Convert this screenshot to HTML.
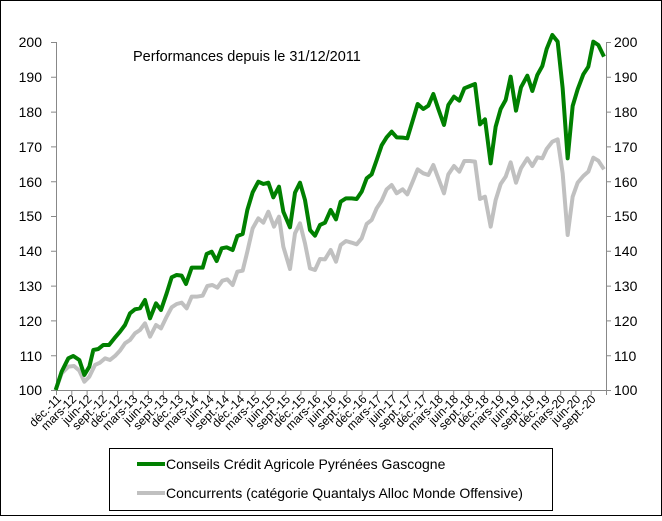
<!DOCTYPE html>
<html><head><meta charset="utf-8"><style>
body{margin:0;background:#fff}
svg text{font-family:"Liberation Sans",Arial,sans-serif;fill:#000}
</style></head><body>
<svg width="662" height="516" viewBox="0 0 662 516" xmlns="http://www.w3.org/2000/svg">
<rect x="0.5" y="0.5" width="661" height="515" fill="#fff" stroke="#000"/>
<g stroke="#888" stroke-width="1" fill="none">
<line x1="56.5" y1="42" x2="56.5" y2="390"/>
<line x1="606.5" y1="42" x2="606.5" y2="390"/>
<line x1="56" y1="390.5" x2="607" y2="390.5"/>
<path d="M51 42.5H56M51 77.3H56M51 112.1H56M51 146.9H56M51 181.7H56M51 216.5H56M51 251.3H56M51 286.1H56M51 320.9H56M51 355.7H56M51 390.5H56"/>
<path d="M606 42.5H611M606 77.3H611M606 112.1H611M606 146.9H611M606 181.7H611M606 216.5H611M606 251.3H611M606 286.1H611M606 320.9H611M606 355.7H611M606 390.5H611"/>
<path id="xt" d=""/>
</g>
<g font-size="14" text-anchor="end">
<text x="42" y="47">200</text><text x="42" y="82">190</text><text x="42" y="117">180</text><text x="42" y="152">170</text><text x="42" y="187">160</text><text x="42" y="221">150</text><text x="42" y="256">140</text><text x="42" y="291">130</text><text x="42" y="326">120</text><text x="42" y="361">110</text><text x="42" y="395">100</text>
</g>
<g font-size="14">
<text x="614" y="47">200</text><text x="614" y="82">190</text><text x="614" y="117">180</text><text x="614" y="152">170</text><text x="614" y="187">160</text><text x="614" y="221">150</text><text x="614" y="256">140</text><text x="614" y="291">130</text><text x="614" y="326">120</text><text x="614" y="361">110</text><text x="614" y="395">100</text>
</g>
<text x="133" y="61" font-size="14.5">Performances depuis le 31/12/2011</text>
<g id="xl" font-size="12" text-anchor="end"></g>
<g transform="translate(50,30) scale(0.33333)" fill="none" stroke-linejoin="round">
<polyline vector-effect="non-scaling-stroke" stroke="#c0c0c0" stroke-width="4" points="17,1080 35,1030 55,1010 72,1008 88,1022 103,1055 118,1040 135,1005 150,998 165,985 180,990 195,978 210,962 225,940 240,930 255,910 270,900 285,880 300,920 318,885 333,895 350,860 365,832 380,822 395,818 410,835 425,800 440,800 458,797 472,768 487,765 502,773 517,752 532,748 548,765 562,725 578,722 592,665 608,595 625,565 640,578 655,545 672,590 687,560 700,650 720,717 735,610 750,580 765,640 780,715 795,720 810,687 825,688 842,660 858,695 872,645 888,633 905,638 920,643 935,625 950,582 965,570 980,535 995,512 1010,478 1025,465 1040,490 1058,478 1072,493 1088,455 1103,418 1120,430 1135,435 1150,405 1165,445 1182,490 1195,433 1212,408 1228,425 1243,393 1260,393 1275,395 1290,507 1305,500 1322,590 1337,510 1352,462 1367,440 1382,397 1398,458 1413,415 1432,385 1447,408 1462,382 1477,385 1490,357 1507,335 1523,328 1538,430 1553,615 1568,500 1583,458 1600,438 1615,425 1630,383 1645,392 1662,418"/>
<polyline vector-effect="non-scaling-stroke" stroke="#008000" stroke-width="4" points="17,1080 35,1025 55,985 70,978 88,990 103,1035 118,1010 130,960 145,957 160,945 177,945 193,925 210,905 225,885 240,850 255,838 270,835 285,810 300,865 318,820 333,840 350,790 365,742 380,735 395,737 408,762 425,713 440,713 458,713 470,672 485,665 500,693 515,655 530,652 548,660 562,618 578,612 592,540 608,487 625,455 640,462 655,458 670,502 687,470 700,545 720,592 735,488 750,458 765,510 780,600 795,617 810,585 825,578 842,540 858,568 872,515 888,505 905,505 920,507 935,485 950,445 965,433 980,390 995,346 1010,322 1025,305 1040,322 1058,323 1072,325 1088,272 1103,222 1120,237 1135,227 1150,192 1165,237 1182,285 1195,225 1212,200 1228,212 1243,175 1260,168 1275,162 1290,283 1305,268 1322,400 1337,290 1352,237 1367,210 1382,140 1398,242 1413,172 1432,137 1447,183 1462,135 1477,108 1490,57 1507,15 1523,35 1538,175 1553,385 1568,228 1583,178 1600,133 1615,110 1630,35 1645,45 1662,80"/>
</g>
<rect x="109.5" y="448.5" width="443" height="62" fill="#fff" stroke="#000"/>
<line x1="137" y1="464" x2="165" y2="464" stroke="#008000" stroke-width="4"/>
<line x1="137" y1="493" x2="165" y2="493" stroke="#c0c0c0" stroke-width="4"/>
<text x="166" y="469" font-size="14">Conseils Crédit Agricole Pyrénées Gascogne</text>
<text x="166" y="498" font-size="14">Concurrents (catégorie Quantalys Alloc Monde Offensive)</text>
</svg>
<script>
var L=["déc.-11","mars-12","juin-12","sept.-12","déc.-12","mars-13","juin-13","sept.-13","déc.-13","mars-14","juin-14","sept.-14","déc.-14","mars-15","juin-15","sept.-15","déc.-15","mars-16","juin-16","sept.-16","déc.-16","mars-17","juin-17","sept.-17","déc.-17","mars-18","juin-18","sept.-18","déc.-18","mars-19","juin-19","sept.-19","déc.-19","mars-20","juin-20","sept.-20"];
var g=document.getElementById('xl'),d="",NS="http://www.w3.org/2000/svg";
var st=550/36;
for(var i=0;i<=36;i++){var x=56.5+i*st;d+="M"+x.toFixed(1)+" 390V395";}
document.getElementById('xt').setAttribute('d',d);
for(var i=0;i<36;i++){var x=59+i*st,t=document.createElementNS(NS,'text');
t.setAttribute('transform','translate('+x.toFixed(1)+',397) rotate(-45)');t.setAttribute('x',0);t.setAttribute('y',4);t.textContent=L[i];g.appendChild(t);}
</script>
</body></html>
